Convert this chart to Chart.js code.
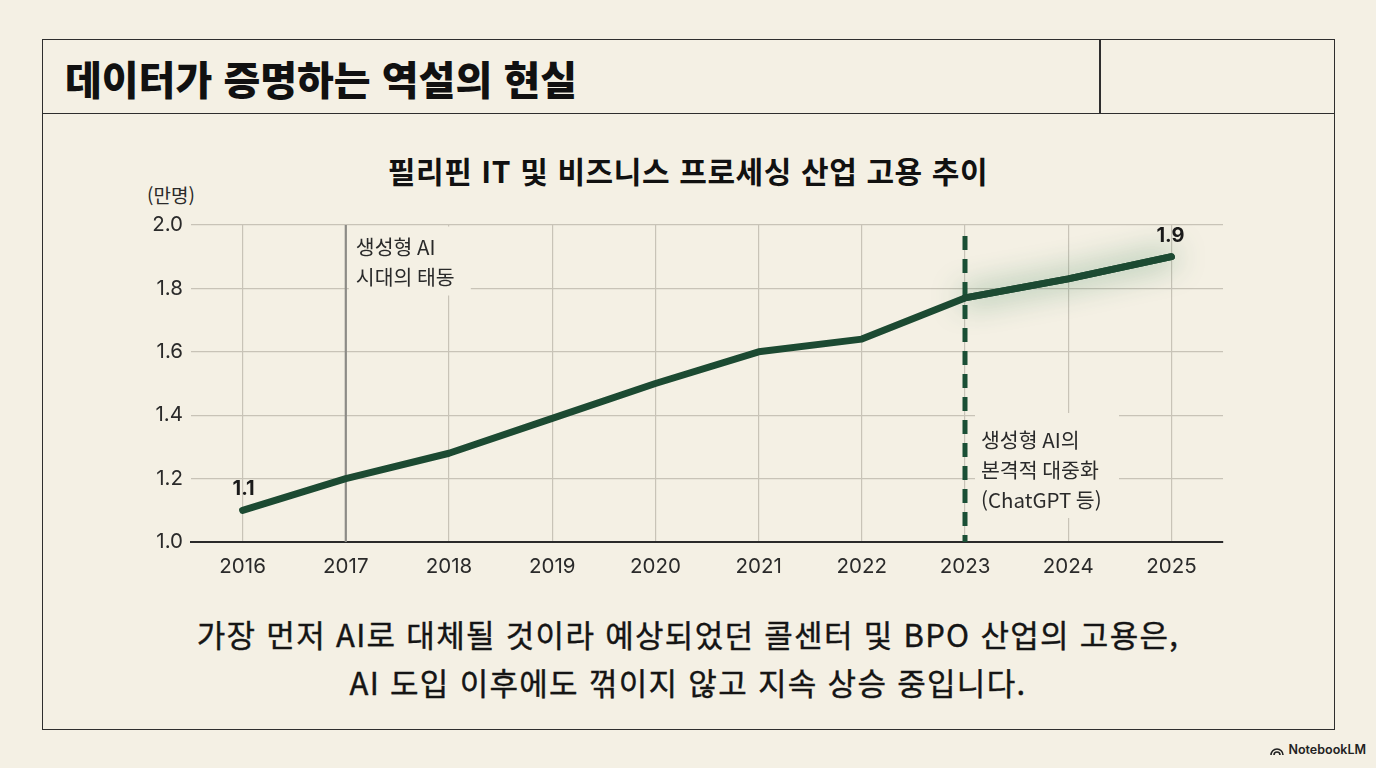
<!DOCTYPE html>
<html lang="ko">
<head>
<meta charset="utf-8">
<script src="https://cdn.jsdelivr.net/npm/chart.js@4.4.1/dist/chart.umd.min.js"></script>
<style>
  html, body { margin:0; padding:0; }
  body { width:1376px; height:768px; background:#f4f0e4; position:relative; overflow:hidden;
         font-family: Inter, "Noto Sans CJK KR", sans-serif; color:#1e1e1e; }
  #frame { position:absolute; left:42px; top:39px; width:1293px; height:691px; box-sizing:border-box;
           border:1.5px solid #2e2e2e; }
  #titlebar { position:absolute; left:0; top:0; right:0; height:73px; border-bottom:1.5px solid #2e2e2e; }
  #divider { position:absolute; left:1056px; top:0; width:1.5px; height:73px; background:#2e2e2e; }
  #title { position:absolute; left:65px; top:52px; font-family:"Noto Sans CJK KR", sans-serif;
           font-weight:900; font-size:40px; line-height:52px; letter-spacing:0px; color:#111; }
  #charttitle { position:absolute; left:0; width:1376px; top:149px; text-align:center;
           font-family:"Noto Sans CJK KR", sans-serif; font-weight:700; font-size:30px; line-height:42px; letter-spacing:0.6px; color:#111; }
  #unit { position:absolute; left:147px; top:182px; font-family:"Noto Sans CJK KR", sans-serif;
          font-size:19px; line-height:26px; color:#2a2a2a; }
  #wrap { position:absolute; left:100px; top:200px; width:1180px; height:400px; }
  #caption { position:absolute; left:0; width:1376px; top:610px; text-align:center;
             font-family:"Noto Sans CJK KR", sans-serif; font-weight:400; font-size:31px; line-height:48px; letter-spacing:1.3px;
             color:#151515; -webkit-text-stroke:0.4px #151515; }
  #nlm { position:absolute; right:10px; top:742px; font-family:Inter, sans-serif; font-size:12.5px; font-weight:600; color:#222;
         display:flex; align-items:center; gap:4px; }
</style>
</head>
<body>
<div id="frame"><div id="titlebar"></div><div id="divider"></div></div>
<div id="title">데이터가 증명하는 역설의 현실</div>
<div id="charttitle">필리핀 IT 및 비즈니스 프로세싱 산업 고용 추이</div>
<div id="unit">(만명)</div>
<div id="wrap"><canvas id="c" width="1180" height="400"></canvas></div>
<div id="caption">가장 먼저 AI로 대체될 것이라 예상되었던 콜센터 및 BPO 산업의 고용은,<br>AI 도입 이후에도 꺾이지 않고 지속 상승 중입니다.</div>
<div id="nlm"><svg width="14" height="12" viewBox="0 0 14 12"><path d="M1 11 A6 6 0 0 1 13 11 M4 11 A3 3 0 0 1 10 11" stroke="#222" stroke-width="1.6" fill="none"/></svg>NotebookLM</div>

<script>
const years = ["2016","2017","2018","2019","2020","2021","2022","2023","2024","2025"];
const employment = [1.1, 1.2, 1.28, 1.39, 1.5, 1.6, 1.64, 1.77, 1.83, 1.9];
const glowSegment = [null, null, null, null, null, null, null, 1.77, 1.83, 1.9];
const yTicks = [1.0, 1.2, 1.4, 1.6, 1.8, 2.0];
const annotationEarly = { year: "2017", lines: ["생성형 AI", "시대의 태동"] };
const annotationBoom = { year: "2023", lines: ["생성형 AI의", "본격적 대중화", "(ChatGPT 등)"] };
const pointLabels = [{ year: "2016", value: 1.1, text: "1.1" }, { year: "2025", value: 1.9, text: "1.9" }];

const BG = "#f4f0e4";
const GREEN = "#1c4a32";

const annotPlugin = {
  id: "annot",
  beforeDatasetsDraw(chart) {
    const { ctx, chartArea, scales: { x, y } } = chart;
    const top = chartArea.top;
    ctx.save();
    const x17 = x.getPixelForValue(years.indexOf(annotationEarly.year));
    ctx.strokeStyle = "#8c8b86";
    ctx.lineWidth = 2.2;
    ctx.beginPath(); ctx.moveTo(x17, top); ctx.lineTo(x17, chartArea.bottom); ctx.stroke();
    ctx.fillStyle = BG;
    ctx.fillRect(x17 + 3, top + 1.5, 122, 69);
    ctx.font = '20.5px "Noto Sans CJK KR", sans-serif';
    ctx.fillStyle = "#2a2a2a";
    ctx.textBaseline = "middle";
    ctx.textAlign = "left";
    annotationEarly.lines.forEach((t, i) => ctx.fillText(t, x17 + 10, top + 22 + i * 30));

    const x23 = x.getPixelForValue(years.indexOf(annotationBoom.year));
    ctx.fillStyle = BG;
    ctx.fillRect(x23 + 10, top + 188, 144, 105);
    ctx.fillStyle = "#2a2a2a";
    annotationBoom.lines.forEach((t, i) => ctx.fillText(t, x23 + 16, top + 215 + i * 30));
    ctx.strokeStyle = "#1a4f35";
    ctx.lineWidth = 5;
    ctx.setLineDash([14, 9]);
    ctx.beginPath(); ctx.moveTo(x23, top + 11); ctx.lineTo(x23, chartArea.bottom); ctx.stroke();
    ctx.restore();
  },
  beforeDatasetDraw(chart, args) {
    if (args.index === 1) {
      const ctx = chart.ctx;
      ctx.save();
      ctx.shadowColor = "rgba(40,120,75,0.85)";
      ctx.shadowBlur = 30;
    }
  },
  afterDatasetDraw(chart, args) {
    if (args.index === 1) chart.ctx.restore();
  },
  afterDatasetsDraw(chart) {
    const { ctx, scales: { x, y } } = chart;
    ctx.save();
    ctx.font = 'bold 20px Inter, "Noto Sans CJK KR", sans-serif';
    ctx.fillStyle = "#1a1a1a";
    ctx.textAlign = "center";
    ctx.textBaseline = "middle";
    pointLabels.forEach(p => {
      const px = x.getPixelForValue(years.indexOf(p.year));
      const py = y.getPixelForValue(p.value);
      ctx.fillText(p.text, px + (p.year === "2025" ? -1 : 1), py - 21);
    });
    ctx.restore();
  }
};

new Chart(document.getElementById("c"), {
  type: "line",
  data: {
    labels: years,
    datasets: [
      { data: employment, borderColor: GREEN, borderWidth: 7, pointRadius: 0, tension: 0,
        borderCapStyle: "round", borderJoinStyle: "round", order: 0 },
      { data: glowSegment, borderColor: GREEN, borderWidth: 7, pointRadius: 0, tension: 0,
        borderCapStyle: "round", borderJoinStyle: "round", spanGaps: false, order: 1 }
    ]
  },
  options: {
    responsive: false,
    animation: false,
    devicePixelRatio: 1,
    layout: { padding: { top: 25, right: 57, bottom: 0, left: 0 } },
    plugins: { legend: { display: false }, tooltip: { enabled: false }, title: { display: false } },
    scales: {
      x: {
        offset: true,
        grid: { color: "#c8c3b7", lineWidth: 1.2, drawTicks: false, offset: false },
        border: { display: true, color: "#2a2a2a", width: 2 },
        ticks: { color: "#2a2a2a", padding: 13, font: { family: 'Inter, "Noto Sans CJK KR", sans-serif', size: 20.5 } },
        afterFit(s) { s.height = 58; }
      },
      y: {
        min: 1.0, max: 2.0,
        afterBuildTicks(s) { s.ticks = yTicks.map(v => ({ value: v })); },
        grid: { color: "#c8c3b7", lineWidth: 1.2, drawTicks: false },
        border: { display: false },
        ticks: { color: "#2a2a2a", padding: 8, font: { family: 'Inter, "Noto Sans CJK KR", sans-serif', size: 20.5 },
                 callback: v => Number(v).toFixed(1) },
        afterFit(s) { s.width = 91; }
      }
    }
  },
  plugins: [annotPlugin]
});
</script>
</body>
</html>
